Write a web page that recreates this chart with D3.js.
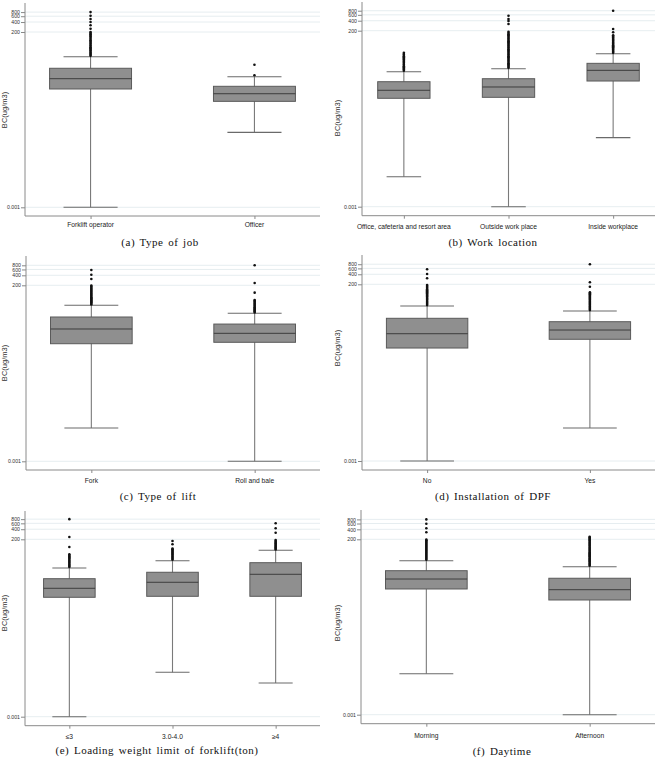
<!DOCTYPE html>
<html>
<head>
<meta charset="utf-8">
<script src="https://cdn.jsdelivr.net/npm/d3@7"></script>
<style>
  body { margin: 0; background: #fff; }
  svg { display: block; }
</style>
</head>
<body>
<script>
// y axis ticks shared by every panel (log scale)
const yTicks = [0.001, 200, 400, 600, 800];
const yTickLabels = ["0.001", "200", "400", "600", "800"];

// (a) Type of job
const jobCats = ["Forklift operator", "Officer"];
const jobLow = [0.001, 0.185];
const jobQ1 = [3.78, 1.6];
const jobMed = [7.74, 2.72];
const jobQ3 = [16.0, 4.56];
const jobHigh = [35.8, 8.9];
const jobOut = [
  [38, 41, 44, 47, 51, 55, 59, 64, 69, 75, 81, 88, 95, 103, 112, 122, 133, 145, 158, 172, 188, 200, 252, 320, 400, 494, 620, 800],
  [9.8, 20.5]
];

// (b) Work location
const locCats = ["Office, cafeteria and resort area", "Outside work place", "Inside workplace"];
const locLow = [0.008, 0.001, 0.12];
const locQ1 = [1.84, 1.97, 6.1];
const locMed = [3.21, 4.03, 12.8];
const locQ3 = [5.82, 7.16, 20.8];
const locHigh = [11.6, 14.3, 40.6];
const locOut = [
  [12.5, 13.5, 14.6, 15.8, 17, 18.4, 19.9, 21.5, 23.2, 25, 27, 29.2, 31.5, 34, 36.8, 39.7, 43],
  [15.2, 16.5, 17.9, 19.4, 21, 22.8, 24.7, 26.8, 29, 31.5, 34, 37, 40, 43.5, 47, 51, 55, 60, 65, 70, 76, 82, 89, 97, 105, 114, 123, 134, 145, 157, 170, 185, 318, 392, 450, 566],
  [43, 46.5, 50, 54, 58.5, 63, 68, 73.5, 79, 85.5, 92, 99, 107, 115, 124, 134, 145, 179, 225, 800]
];

// (c) Type of lift
const liftCats = ["Fork", "Roll and bale"];
const liftLow = [0.0101, 0.001];
const liftQ1 = [3.48, 3.84];
const liftMed = [9.66, 7.16];
const liftQ3 = [22.2, 13.6];
const liftHigh = [50, 28.7];
const liftOut = [
  [53, 57, 61.5, 66, 71, 76.5, 82, 88, 95, 102, 110, 118, 127, 137, 147, 158, 170, 183, 197, 310, 417, 578],
  [30.5, 32.8, 35.3, 38, 41, 44, 47.5, 51, 55, 59, 63.5, 68, 72, 120, 235, 800]
];

// (d) Installation of DPF
const dpfCats = ["No", "Yes"];
const dpfLow = [0.001, 0.0098];
const dpfQ1 = [2.45, 4.48];
const dpfMed = [6.59, 8.5];
const dpfQ3 = [19.1, 15.1];
const dpfHigh = [44.7, 31.6];
const dpfOut = [
  [47.5, 51, 55, 59, 63.5, 68.5, 74, 79.5, 85.5, 92, 99, 107, 115, 124, 133, 143, 154, 166, 179, 190, 303, 407, 564],
  [33.7, 36.2, 39, 42, 45, 48.5, 52, 56, 60, 64.5, 69.5, 75, 80.5, 86.5, 93, 100, 108, 116, 169, 230, 800]
];

// (e) Loading weight limit of forklift(ton)
const loadCats = ["≤3", "3.0-4.0", "≥4"];
const loadLow = [0.001, 0.0212, 0.0102];
const loadQ1 = [3.7, 3.96, 3.96];
const loadMed = [6.87, 10.4, 18];
const loadQ3 = [13.3, 20.7, 40];
const loadHigh = [27.8, 45.9, 93.8];
const loadOut = [
  [29.6, 31.8, 34.2, 36.8, 39.6, 42.6, 45.8, 49.2, 53, 57, 61.3, 66, 71, 118, 234, 800],
  [48.8, 52.4, 56.3, 60.5, 65, 70, 75.2, 80.8, 86.8, 93.3, 100.3, 105, 142, 178],
  [99.5, 106, 113, 120.5, 128.5, 137, 146, 155.5, 166, 177, 189, 315, 426, 601]
];

// (f) Daytime
const dayCats = ["Morning", "Afternoon"];
const dayLow = [0.0173, 0.001];
const dayQ1 = [6.3, 2.93];
const dayMed = [12.6, 6.0];
const dayQ3 = [22.5, 13.3];
const dayHigh = [45.1, 29.7];
const dayOut = [
  [48, 51.5, 55.3, 59.4, 63.8, 68.5, 73.5, 79, 84.8, 91, 97.8, 105, 113, 121, 130, 140, 150, 161, 173, 186, 195, 326, 430, 592, 800],
  [31.6, 34, 36.6, 39.4, 42.4, 45.6, 49, 52.7, 56.7, 61, 65.6, 70.6, 76, 81.7, 88, 94.6, 101.8, 109.5, 117.8, 126.7, 136.3, 146.6, 157.7, 169.7, 182.5, 196.3, 211, 227, 240]
];

const panels = [
  { caption: "(a) Type of job", cats: jobCats, low: jobLow, q1: jobQ1, med: jobMed, q3: jobQ3, high: jobHigh, out: jobOut,
    x0: 25, x1: 320, top: 3, axisY: 216, y200: 32, y001: 207.3, pad: 0.4, catY: 227, labX: 4, labY: 110, capX: 160, capY: 246 },
  { caption: "(b) Work location", cats: locCats, low: locLow, q1: locQ1, med: locMed, q3: locQ3, high: locHigh, out: locOut,
    x0: 362, x1: 655, top: 2, axisY: 215.7, y200: 30.7, y001: 206.7, pad: 0.4, catY: 228.5, labX: 337, labY: 118, capX: 493, capY: 246 },
  { caption: "(c) Type of lift", cats: liftCats, low: liftLow, q1: liftQ1, med: liftMed, q3: liftQ3, high: liftHigh, out: liftOut,
    x0: 26, x1: 320, top: 256, axisY: 470, y200: 285.3, y001: 461.3, pad: 0.4, catY: 483, labX: 4, labY: 363, capX: 158, capY: 500 },
  { caption: "(d) Installation of DPF", cats: dpfCats, low: dpfLow, q1: dpfQ1, med: dpfMed, q3: dpfQ3, high: dpfHigh, out: dpfOut,
    x0: 362, x1: 655, top: 255, axisY: 470, y200: 284.3, y001: 461, pad: 0.4, catY: 483, labX: 337, labY: 348, capX: 493, capY: 500 },
  { caption: "(e) Loading weight limit of forklift(ton)", cats: loadCats, low: loadLow, q1: loadQ1, med: loadMed, q3: loadQ3, high: loadHigh, out: loadOut,
    x0: 25, x1: 320, top: 511, axisY: 725.7, y200: 539.3, y001: 716.7, pad: 0.43, catY: 739, labX: 4, labY: 613, capX: 157, capY: 754 },
  { caption: "(f) Daytime", cats: dayCats, low: dayLow, q1: dayQ1, med: dayMed, q3: dayQ3, high: dayHigh, out: dayOut,
    x0: 361, x1: 655, top: 510, axisY: 723.7, y200: 539.3, y001: 714.7, pad: 0.4, catY: 738, labX: 337, labY: 623, capX: 502, capY: 755 }
];

const svg = d3.select("body").append("svg")
  .attr("width", 660)
  .attr("height", 769)
  .style("font-family", "'Liberation Sans', Arial, sans-serif");

svg.append("rect").attr("width", 660).attr("height", 769).attr("fill", "#fff");

panels.forEach(p => {
  const g = svg.append("g");
  const y = d3.scaleLog().domain([0.001, 200]).range([p.y001, p.y200]);
  const x = d3.scalePoint().domain(p.cats).range([p.x0, p.x1]).padding(p.pad);
  const bw = x.step() * 0.5;
  const cw = x.step() * 0.33;

  // gridlines
  g.selectAll(".grid").data(yTicks).join("line")
    .attr("x1", p.x0).attr("x2", p.x1)
    .attr("y1", d => y(d)).attr("y2", d => y(d))
    .attr("stroke", "#dfe8ec").attr("stroke-width", 0.8);

  // y axis
  const ya = g.append("g")
    .attr("transform", "translate(" + p.x0 + ",0)")
    .call(d3.axisLeft(y).tickValues(yTicks).tickFormat((d, i) => yTickLabels[i]).tickSize(4).tickPadding(1));
  ya.select(".domain").remove();
  ya.selectAll("line").attr("stroke", "#888");
  ya.selectAll("text").attr("font-size", 5.2).attr("fill", "#333").attr("font-family", "'Liberation Sans', Arial, sans-serif");

  g.append("line")
    .attr("x1", p.x0).attr("x2", p.x0).attr("y1", p.top).attr("y2", p.axisY)
    .attr("stroke", "#8a8a8a").attr("stroke-width", 1);

  // x axis
  const xa = g.append("g")
    .attr("transform", "translate(0," + p.axisY + ")")
    .call(d3.axisBottom(x).tickSize(3).tickFormat(""));
  xa.select(".domain").remove();
  xa.selectAll("line").attr("stroke", "#888");
  g.append("line")
    .attr("x1", p.x0).attr("x2", p.x1).attr("y1", p.axisY).attr("y2", p.axisY)
    .attr("stroke", "#8a8a8a").attr("stroke-width", 1);

  g.selectAll(".cat").data(p.cats).join("text")
    .attr("x", d => x(d)).attr("y", p.catY)
    .attr("text-anchor", "middle")
    .attr("font-size", 6.7).attr("fill", "#222")
    .text(d => d);

  // y label
  g.append("text")
    .attr("transform", "translate(" + p.labX + "," + p.labY + ") rotate(-90)")
    .attr("text-anchor", "middle").attr("dy", "0.35em")
    .attr("font-size", 7.5).attr("fill", "#333")
    .text("BC(ug/m3)");

  // boxes
  const idx = d3.range(p.cats.length);
  g.selectAll(".whisk").data(idx).join("line")
    .attr("x1", i => x(p.cats[i])).attr("x2", i => x(p.cats[i]))
    .attr("y1", i => y(p.high[i])).attr("y2", i => y(p.low[i]))
    .attr("stroke", "#7a7a7a").attr("stroke-width", 1.1);
  g.selectAll(".capHi").data(idx).join("line")
    .attr("x1", i => x(p.cats[i]) - cw / 2).attr("x2", i => x(p.cats[i]) + cw / 2)
    .attr("y1", i => y(p.high[i])).attr("y2", i => y(p.high[i]))
    .attr("stroke", "#6a6a6a").attr("stroke-width", 1.1);
  g.selectAll(".capLo").data(idx).join("line")
    .attr("x1", i => x(p.cats[i]) - cw / 2).attr("x2", i => x(p.cats[i]) + cw / 2)
    .attr("y1", i => y(p.low[i])).attr("y2", i => y(p.low[i]))
    .attr("stroke", "#6a6a6a").attr("stroke-width", 1.1);
  g.selectAll(".box").data(idx).join("rect")
    .attr("x", i => x(p.cats[i]) - bw / 2).attr("width", bw)
    .attr("y", i => y(p.q3[i])).attr("height", i => y(p.q1[i]) - y(p.q3[i]))
    .attr("fill", "#8f8f8f").attr("stroke", "#5a5a5a").attr("stroke-width", 1);
  g.selectAll(".med").data(idx).join("line")
    .attr("x1", i => x(p.cats[i]) - bw / 2).attr("x2", i => x(p.cats[i]) + bw / 2)
    .attr("y1", i => y(p.med[i])).attr("y2", i => y(p.med[i]))
    .attr("stroke", "#3d3d3d").attr("stroke-width", 1);

  idx.forEach(i => {
    g.selectAll(".o" + i).data(p.out[i]).join("circle")
      .attr("cx", x(p.cats[i])).attr("cy", d => y(d))
      .attr("r", 1.3).attr("fill", "#111");
  });

  // caption
  svg.append("text")
    .attr("x", p.capX).attr("y", p.capY)
    .attr("text-anchor", "middle")
    .attr("font-family", "'Liberation Serif', 'Times New Roman', serif")
    .attr("font-size", 11).attr("letter-spacing", 0.5).attr("word-spacing", 1.5)
    .attr("fill", "#111")
    .text(p.caption);
});
</script>
</body>
</html>
